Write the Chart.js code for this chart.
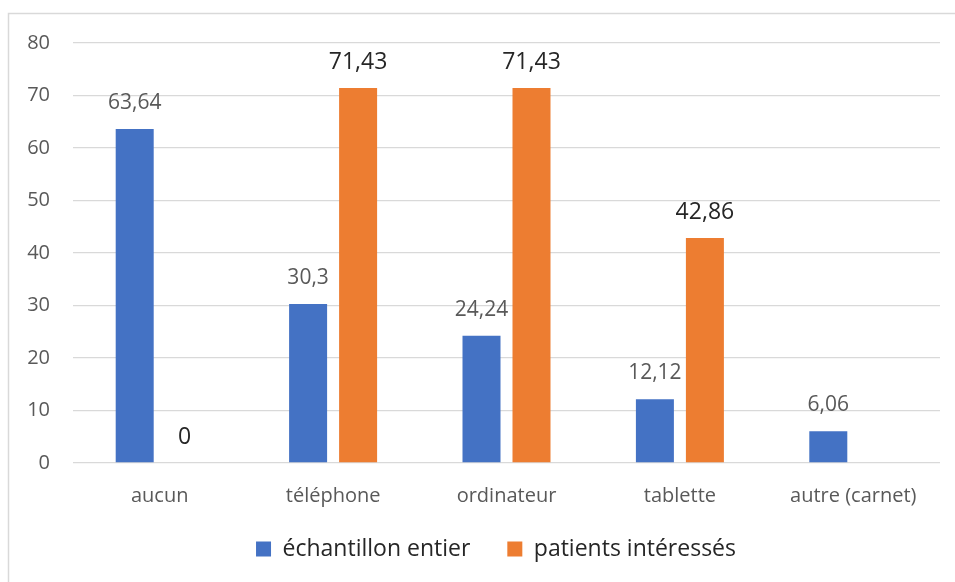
<!DOCTYPE html>
<html lang="fr">
<head>
<meta charset="utf-8">
<title>Supports utilisés</title>
<script src="https://cdn.jsdelivr.net/npm/chart.js@4/dist/chart.umd.min.js"></script>
<style>
  html, body { margin: 0; padding: 0; background: #ffffff; }
  #wrap { width: 955px; height: 582px; position: relative; }
</style>
</head>
<body>
<div id="wrap"><canvas id="c" width="955" height="582"></canvas></div>
<script>
// Catégories et séries (%)
const categories = ['aucun', 'téléphone', 'ordinateur', 'tablette', 'autre (carnet)'];
const echantillonEntier = [63.64, 30.3, 24.24, 12.12, 6.06];
const patientsInteresses = [0, 71.43, 71.43, 42.86, null];
const seriesNames = ['échantillon entier', 'patients intéressés'];
const yTicks = [0, 10, 20, 30, 40, 50, 60, 70, 80];

const FONT = "'Open Sans', 'Noto Sans', sans-serif";
const BLUE = '#4472C4';
const ORANGE = '#ED7D31';

// Cadre du graphique (bords haut et gauche)
const framePlugin = {
  id: 'frame',
  beforeDraw(chart) {
    const ctx = chart.ctx;
    ctx.save();
    ctx.strokeStyle = '#d9d9d9';
    ctx.lineWidth = 1.5;
    ctx.beginPath();
    ctx.moveTo(8.5, chart.height);
    ctx.lineTo(8.5, 13.5);
    ctx.lineTo(chart.width, 13.5);
    ctx.stroke();
    ctx.restore();
  }
};

// Légende : décalée vers la droite et légèrement remontée
const legendShift = {
  id: 'legendShift',
  afterLayout(chart) {
    const lg = chart.legend;
    if (!lg) return;
    lg.left += 52;
    lg.top -= 11.5;
    lg.bottom -= 11.5;
  }
};

// Étiquettes de valeurs au-dessus des barres
const valueLabels = {
  id: 'valueLabels',
  afterDatasetsDraw(chart) {
    const ctx = chart.ctx;
    const styles = [
      { font: '21px ' + FONT, color: '#595959' },
      { font: '23px ' + FONT, color: '#262626' }
    ];
    ctx.save();
    ctx.textAlign = 'center';
    ctx.textBaseline = 'middle';
    chart.data.datasets.forEach((ds, di) => {
      const meta = chart.getDatasetMeta(di);
      meta.data.forEach((bar, i) => {
        const v = ds.data[i];
        if (v === null || v === undefined) return;
        ctx.font = styles[di].font;
        ctx.fillStyle = styles[di].color;
        ctx.fillText(String(v).replace('.', ','), bar.x, bar.y - 26);
      });
    });
    ctx.restore();
  }
};

new Chart(document.getElementById('c'), {
  type: 'bar',
  data: {
    labels: categories,
    datasets: [
      { label: seriesNames[0], data: echantillonEntier, backgroundColor: BLUE,
        categoryPercentage: 0.5767, barPercentage: 0.76 },
      { label: seriesNames[1], data: patientsInteresses, backgroundColor: ORANGE,
        categoryPercentage: 0.5767, barPercentage: 0.76 }
    ]
  },
  options: {
    responsive: false,
    devicePixelRatio: 1,
    animation: false,
    layout: { padding: { left: 0, right: 15, top: 43, bottom: 0 } },
    plugins: {
      tooltip: { enabled: false },
      legend: {
        position: 'bottom',
        labels: {
          boxWidth: 15,
          boxHeight: 15,
          padding: 37,
          color: '#262626',
          font: { family: FONT, size: 23 }
        }
      }
    },
    scales: {
      x: {
        grid: { display: false },
        border: { display: false },
        ticks: {
          color: '#595959',
          font: { family: FONT, size: 20 },
          padding: 13,
          maxRotation: 0
        },
        afterFit(scale) { scale.height = 49; }
      },
      y: {
        min: 0,
        max: 80,
        afterBuildTicks(scale) { scale.ticks = yTicks.map(v => ({ value: v })); },
        grid: { color: '#d9d9d9', lineWidth: 1.3, drawTicks: false },
        border: { display: false },
        ticks: {
          color: '#595959',
          font: { family: FONT, size: 20 },
          padding: 23
        },
        afterFit(scale) { scale.width = 73; }
      }
    }
  },
  plugins: [framePlugin, legendShift, valueLabels]
});
</script>
</body>
</html>
